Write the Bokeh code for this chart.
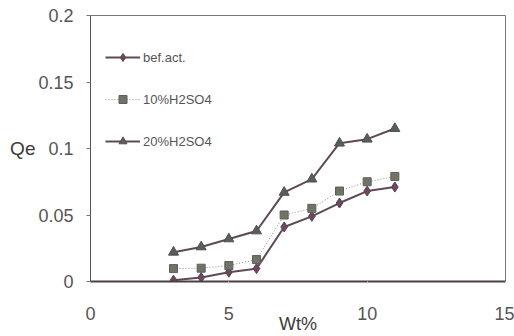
from bokeh.plotting import figure
from bokeh.models import Range1d, FixedTicker, CustomJSTickFormatter, Legend, LegendItem
from bokeh.embed import file_html
from bokeh.resources import INLINE

wt = [3, 4, 5, 6, 7, 8, 9, 10, 11]
bef_act = [0.001, 0.003, 0.007, 0.0097, 0.041, 0.049, 0.059, 0.068, 0.071]
h2so4_10 = [0.0097, 0.010, 0.012, 0.0165, 0.050, 0.055, 0.068, 0.075, 0.079]
h2so4_20 = [0.022, 0.026, 0.032, 0.038, 0.067, 0.077, 0.104, 0.107, 0.115]
x_ticks = [0, 5, 10, 15]
y_ticks = [0, 0.05, 0.1, 0.15, 0.2]

FONT = "Liberation Sans"

p = figure(width=514, height=336, output_backend="svg", toolbar_location=None,
           x_range=Range1d(0, 15), y_range=Range1d(0, 0.2),
           min_border_left=90, min_border_right=9, min_border_top=15, min_border_bottom=54)

p.xgrid.visible = False
p.ygrid.visible = False
p.outline_line_color = "#777777"
p.outline_line_width = 1
p.background_fill_color = "white"
p.border_fill_color = "white"

# axes
p.xaxis.ticker = FixedTicker(ticks=x_ticks)
p.yaxis.ticker = FixedTicker(ticks=y_ticks)
p.yaxis.formatter = CustomJSTickFormatter(code="return String(Math.round(tick*100)/100);")
for ax in (p.xaxis[0], p.yaxis[0]):
    ax.major_label_text_font = FONT
    ax.major_label_text_font_size = "18px"
    ax.major_label_text_color = "#555555"
    ax.minor_tick_line_color = None
    ax.axis_label_text_font = FONT
    ax.axis_label_text_font_style = "normal"
    ax.axis_label_text_color = "#3a3a3a"

p.yaxis.axis_line_color = "#555555"
p.yaxis.major_tick_line_color = "#777777"
p.yaxis.major_tick_out = 4
p.yaxis.major_tick_in = 0
p.yaxis.major_label_standoff = 13
p.yaxis.axis_label = "Qe"
p.yaxis.axis_label_text_font_size = "19px"
p.yaxis.axis_label_orientation = "horizontal"
p.yaxis.axis_label_standoff = 0

p.xaxis.axis_line_color = "#4a3f45"
p.xaxis.axis_line_width = 2
p.xaxis.major_tick_line_color = "#cccccc"
p.xaxis.major_tick_out = 2
p.xaxis.major_tick_in = 0
p.xaxis.major_label_standoff = 23
p.xaxis.axis_label = "Wt%"
p.xaxis.axis_label_text_font_size = "18px"
p.xaxis.axis_label_standoff = -9

# series
l1 = p.line(wt, bef_act, line_color="#5e4a56", line_width=2)
s1 = p.scatter(wt, bef_act, marker="diamond", size=10, fill_color="#6a4a5c", line_color="#5a4050")
l2 = p.line(wt, h2so4_10, line_color="#8a8a8a", line_width=1, line_dash="1 2")
s2 = p.scatter(wt, h2so4_10, marker="square", size=8, fill_color="#6f7468", line_color="#5d5f58")
l3 = p.line(wt, h2so4_20, line_color="#5e4a56", line_width=2)
s3 = p.scatter(wt, h2so4_20, marker="triangle", size=10, fill_color="#5a5d58", line_color="#4e504c")

legend = Legend(items=[
    LegendItem(label="bef.act.", renderers=[l1, s1]),
    LegendItem(label="10%H2SO4", renderers=[l2, s2]),
    LegendItem(label="20%H2SO4", renderers=[l3, s3]),
], location=(15, 130))
legend.label_text_font = FONT
legend.label_text_font_size = "13px"
legend.label_text_color = "#555555"
legend.glyph_width = 35
legend.glyph_height = 20
legend.label_height = 20
legend.spacing = 22
legend.padding = 0
legend.margin = 0
legend.label_standoff = 3
legend.border_line_alpha = 0
legend.background_fill_alpha = 0
p.add_layout(legend)

open("out.html", "w").write(file_html(p, INLINE))
